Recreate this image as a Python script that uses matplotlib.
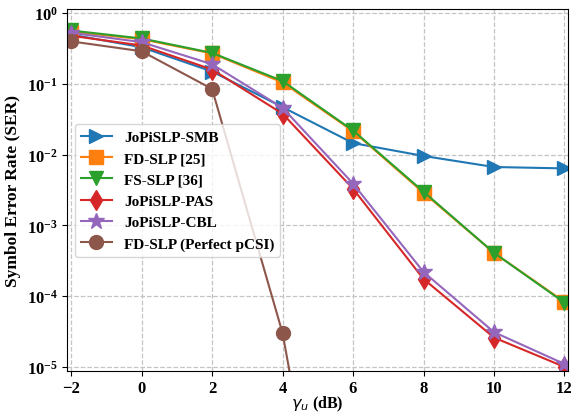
import matplotlib
matplotlib.use("Agg")
import matplotlib.pyplot as plt
from matplotlib.ticker import NullLocator

# SNR points (dB)
gamma_u = [-2, 0, 2, 4, 6, 8, 10, 12]

# SER curves
ser_smb = [0.50, 0.33, 0.15, 0.047, 0.0146, 0.0096, 0.0067, 0.0064]
ser_fd = [0.55, 0.43, 0.27, 0.105, 0.0215, 0.0029, 4.1e-4, 8.3e-5]
ser_fs = [0.57, 0.44, 0.275, 0.11, 0.022, 0.0030, 4.1e-4, 8.1e-5]
ser_pas = [0.48, 0.35, 0.16, 0.038, 0.0033, 1.75e-4, 2.6e-5, 1.0e-5]
ser_cbl = [0.53, 0.39, 0.19, 0.046, 0.0039, 2.2e-4, 3.1e-5, 1.1e-5]
ser_perfect = [0.40, 0.29, 0.085, 3.0e-5, 1e-10]

labels = ["JoPiSLP-SMB", "FD-SLP [25]", "FS-SLP [36]",
          "JoPiSLP-PAS", "JoPiSLP-CBL", "FD-SLP (Perfect pCSI)"]

plt.rcParams["font.family"] = "Liberation Serif"
plt.rcParams["font.weight"] = "bold"
# keep the greek symbol in the x label light, like the original
plt.rcParams["mathtext.fontset"] = "custom"
plt.rcParams["mathtext.it"] = "DejaVu Sans:italic:normal"
plt.rcParams["mathtext.rm"] = "DejaVu Sans:normal"

fig = plt.figure(figsize=(5.72, 4.14), dpi=100)
ax = fig.add_axes([0.117, 0.101, 0.876, 0.875])

style = dict(linewidth=1.5, markersize=10)
ax.plot(gamma_u, ser_smb, marker=">", color="tab:blue", label=labels[0], **style)
ax.plot(gamma_u, ser_fd, marker="s", color="tab:orange", label=labels[1], **style)
ax.plot(gamma_u, ser_fs, marker="v", color="tab:green", label=labels[2], **style)
ax.plot(gamma_u, ser_pas, marker="d", color="tab:red", label=labels[3], **style)
ax.plot(gamma_u, ser_cbl, marker="*", color="tab:purple", label=labels[4],
        linewidth=1.5, markersize=12)
ax.plot(gamma_u[:len(ser_perfect)], ser_perfect, marker="o", color="tab:brown",
        label=labels[5], **style)

ax.set_yscale("log")
ax.set_xlim(-2.12, 12.1)
ax.set_ylim(8.7e-6, 1.15)
ax.set_xticks(gamma_u)
ax.yaxis.set_minor_locator(NullLocator())
ax.tick_params(labelsize=12, pad=3)
for t in ax.get_xticklabels():
    t.set_fontweight("bold")

ax.grid(True, linestyle="--", color="#c4c4c4", linewidth=0.9)
ax.set_xlabel(r"$\gamma_u$ (dB)", fontsize=11.5, fontweight="bold", labelpad=-2)
ax.set_ylabel("Symbol Error Rate (SER)", fontsize=12.5, fontweight="bold",
              labelpad=4)

ax.legend(loc="lower left", bbox_to_anchor=(0.016, 0.315), borderaxespad=0,
          prop={"weight": "bold", "size": 11}, handlelength=2.0)

fig.savefig("out.png", dpi=100)
